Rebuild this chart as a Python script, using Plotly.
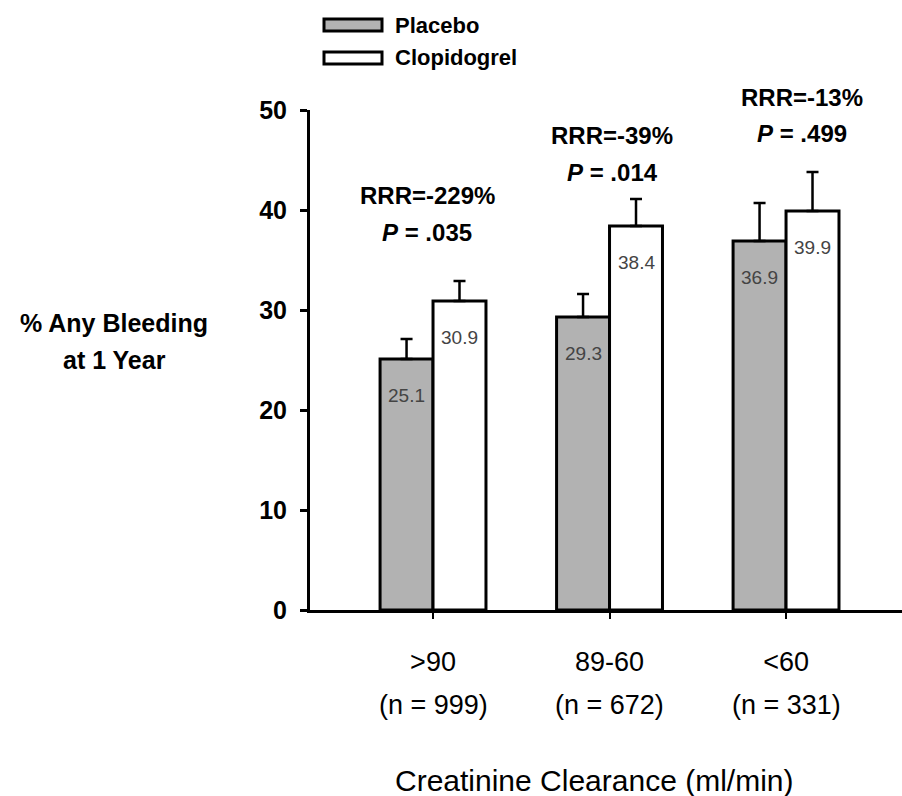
import plotly.graph_objects as go

# ---- data ----
categories = [">90", "89-60", "<60"]
n_patients = [999, 672, 331]
placebo = [25.1, 29.3, 36.9]
clopidogrel = [30.9, 38.4, 39.9]
placebo_err = [2.0, 2.3, 3.8]
clopidogrel_err = [2.0, 2.7, 3.9]
rrr_labels = ["RRR=-229%", "RRR=-39%", "RRR=-13%"]
p_labels = [".035", ".014", ".499"]
y_ticks = [0, 10, 20, 30, 40, 50]

# ---- page geometry (pixels) ----
W, H = 902, 796
L, R, T, B = 310, 902, 110, 610
FONT = "Liberation Sans, Arial, sans-serif"
PLACEBO_FILL = "#b2b2b2"


def px(x):
    return (x - L) / (R - L)


def py(y):
    return (B - y) / (B - T)


def label(x, y, text, size, weight="normal", color="black", **kw):
    base = dict(x=x, y=y, xref="paper", yref="paper", text=text,
                showarrow=False, xanchor="center", yanchor="middle",
                font=dict(family=FONT, size=size, color=color, weight=weight))
    base.update(kw)
    return base


fig = go.Figure()
fig.add_trace(go.Bar(
    name="Placebo", x=categories, y=placebo,
    marker=dict(color=PLACEBO_FILL, line=dict(color="black", width=3)),
    error_y=dict(type="data", symmetric=False, array=placebo_err,
                 arrayminus=[0] * len(placebo), color="black",
                 thickness=2.5, width=6),
))
fig.add_trace(go.Bar(
    name="Clopidogrel", x=categories, y=clopidogrel,
    marker=dict(color="white", line=dict(color="black", width=3)),
    error_y=dict(type="data", symmetric=False, array=clopidogrel_err,
                 arrayminus=[0] * len(clopidogrel), color="black",
                 thickness=2.5, width=6),
))

annotations = []
shapes = []

# value labels just inside the top of each bar
unit_px = (R - L) / 3.354
bar_shift = 0.15 * unit_px
for cat, pv, cv in zip(categories, placebo, clopidogrel):
    for val, sh in ((pv, -bar_shift), (cv, bar_shift)):
        annotations.append(dict(
            x=cat, y=val, xref="x", yref="y", text=f"{val:.1f}",
            showarrow=False, xanchor="center", yanchor="middle",
            xshift=sh, yshift=-36,
            font=dict(family=FONT, size=19, color="#444444"),
        ))

# RRR / P annotations above each group
rrr_pos = [(427, 195, 232), (612, 135, 172), (802, 98, 133)]
for (cx, ry, pyy), rtxt, ptxt in zip(rrr_pos, rrr_labels, p_labels):
    annotations.append(label(px(cx), py(ry), rtxt, 24, "bold"))
    annotations.append(label(px(cx), py(pyy), f"<i>P</i> = {ptxt}", 24, "bold"))

# sample size line under each category label
for cat, n in zip(categories, n_patients):
    annotations.append(dict(
        x=cat, y=py(705), xref="x", yref="paper", text=f"(n = {n})",
        showarrow=False, xanchor="center", yanchor="middle",
        font=dict(family=FONT, size=27, color="black"),
    ))

# axis titles
annotations.append(label(px(594), py(780), "Creatinine Clearance (ml/min)", 30))
annotations.append(label(px(114), py(323), "% Any Bleeding", 25, "bold"))
annotations.append(label(px(114), py(360), "at 1 Year", 25, "bold"))

# legend
legend_rows = [("Placebo", PLACEBO_FILL, 19, 31, 25),
               ("Clopidogrel", "white", 52, 64, 58)]
for name, fill, y0, y1, yc in legend_rows:
    shapes.append(dict(
        type="rect", xref="paper", yref="paper",
        x0=px(324), x1=px(382), y0=py(y1), y1=py(y0),
        fillcolor=fill, line=dict(color="black", width=3),
    ))
    annotations.append(label(px(393), py(yc), name, 22, "bold", xanchor="left"))

fig.update_layout(
    width=W, height=H,
    margin=dict(l=L, r=W - R, t=T, b=H - B, pad=0),
    paper_bgcolor="white", plot_bgcolor="white",
    barmode="group", bargap=0.4, bargroupgap=0,
    showlegend=False,
    annotations=annotations, shapes=shapes,
    font=dict(family=FONT, color="black"),
)
fig.update_xaxes(
    type="category", range=[-0.697, 2.657],
    showline=True, linecolor="black", linewidth=3,
    ticks="outside", ticklen=6, tickwidth=2, tickcolor="black",
    tickfont=dict(family=FONT, size=27, color="black"),
    ticklabelstandoff=20, showgrid=False, zeroline=False,
)
fig.update_yaxes(
    range=[0, 50], tickvals=y_ticks,
    showline=True, linecolor="black", linewidth=3,
    ticks="outside", ticklen=7, tickwidth=3, tickcolor="black",
    tickfont=dict(family=FONT, size=25, color="black", weight="bold"),
    ticklabelstandoff=8, showgrid=False, zeroline=False,
)

fig.write_html("out.html")
